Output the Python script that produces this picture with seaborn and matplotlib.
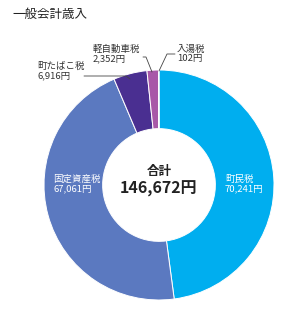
import matplotlib
matplotlib.use("Agg")
import matplotlib.pyplot as plt
import seaborn as sns

categories = ["町民税", "固定資産税", "町たばこ税", "軽自動車税", "入湯税"]
values = [70241, 67061, 6916, 2352, 102]
value_labels = ["70,241円", "67,061円", "6,916円", "2,352円", "102円"]
total_label = "146,672円"
title = "一般会計歳入"
hex_colors = ["#00AEEF", "#5B79C0", "#4A2F91", "#A858A8", "#E6B6D8"]

sns.set_theme(style="white")
plt.rcParams["font.family"] = ["Noto Sans CJK JP", "DejaVu Sans"]
palette = sns.color_palette(hex_colors)

W, H = 300, 315
fig = plt.figure(figsize=(W / 100, H / 100), dpi=100)
fig.patch.set_facecolor("white")

cx, cy, R = 159, 185, 115
ax = fig.add_axes([(cx - R) / W, (H - cy - R) / H, 2 * R / W, 2 * R / H])

ax.pie(values, colors=palette, startangle=90, counterclock=False, radius=1,
       wedgeprops=dict(width=0.51, edgecolor="white", linewidth=0.7))
ax.set_xlim(-1, 1)
ax.set_ylim(-1, 1)
ax.set_aspect("equal")
ax.axis("off")


def px(x, y):
    return ((x - cx) / R, (cy - y) / R)


fs = 6.8
lc = "#444444"
# outside labels
for i, (x, y) in zip([2, 3, 4], [(37, 71), (93, 54), (177, 54)]):
    ax.text(*px(x, y), f"{categories[i]}\n{value_labels[i]}", ha="left", va="center",
            fontsize=fs, color="#333333", linespacing=1.05, clip_on=False)

# leader lines
for pts in [[(84, 76), (126, 76), (130, 79)],
            [(143, 57), (146, 57), (152, 72)],
            [(175, 54), (167, 54), (159, 71)]]:
    xs, ys = zip(*[px(*p) for p in pts])
    ax.plot(xs, ys, color=lc, lw=0.6, clip_on=False)

# inside labels
for i, (x, y) in zip([0, 1], [(225, 184), (53, 184)]):
    ax.text(*px(x, y), f"{categories[i]}\n{value_labels[i]}", ha="left", va="center",
            fontsize=fs, color="white", linespacing=1.05)

ax.text(*px(159, 172), "合計", ha="center", va="center", fontsize=9,
        fontweight="bold", color="#222222")
ax.text(*px(159, 189), total_label, ha="center", va="center", fontsize=11.5,
        fontweight="bold", color="#222222")

fig.text(12 / W, 1 - 14 / H, title, ha="left", va="center", fontsize=9, color="#222222")

fig.savefig("out.png", dpi=100, facecolor="white")
